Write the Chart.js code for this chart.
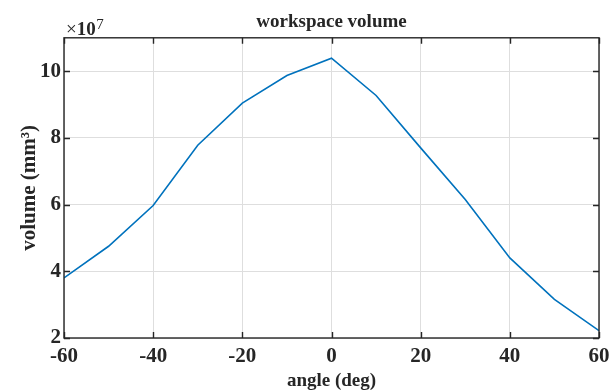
<!DOCTYPE html>
<html><head><meta charset="utf-8">
<script src="https://cdn.jsdelivr.net/npm/chart.js@4"></script>
<style>html,body{margin:0;padding:0;background:#fff;overflow:hidden}#wrap{width:616px;height:391px}</style>
</head><body><div id="wrap"><canvas id="c" width="616" height="391"></canvas></div>
<script>
const angles = [-60, -50, -40, -30, -20, -10, 0, 10, 20, 30, 40, 50, 60];
const volumes = [3.80e7, 4.75e7, 5.97e7, 7.78e7, 9.04e7, 9.87e7, 10.39e7, 9.27e7, 7.70e7, 6.15e7, 4.40e7, 3.16e7, 2.22e7];
const xTicks = [-60, -40, -20, 0, 20, 40, 60];
const yTicks = [2e7, 4e7, 6e7, 8e7, 10e7];
const yExponent = 7;
const titleText = 'workspace volume';
const xLabel = 'angle (deg)';
const yLabel = 'volume (mm³)';

const SERIF = '"Liberation Serif", "Times New Roman", serif';
const INK = '#262626';

const boxPlugin = {
  id: 'matlabBox',
  afterDraw(chart) {
    const {ctx, chartArea: {left, right, top, bottom}, scales: {x, y}} = chart;
    ctx.save();
    ctx.strokeStyle = INK;
    ctx.lineWidth = 1.4;
    const L = 6;
    ctx.beginPath();
    xTicks.forEach(v => {
      const px = Math.round(x.getPixelForValue(v)) + 0.5;
      ctx.moveTo(px, bottom); ctx.lineTo(px, bottom - L);
      ctx.moveTo(px, top); ctx.lineTo(px, top + L);
    });
    yTicks.forEach(v => {
      const py = Math.round(y.getPixelForValue(v)) + 0.5;
      ctx.moveTo(left, py); ctx.lineTo(left + L, py);
      ctx.moveTo(right, py); ctx.lineTo(right - L, py);
    });
    ctx.stroke();
    ctx.strokeRect(left, top, right - left, bottom - top);
    // exponent label
    ctx.fillStyle = INK;
    ctx.textAlign = 'left';
    ctx.textBaseline = 'alphabetic';
    let cx = left + 2;
    ctx.font = '19px ' + SERIF;
    ctx.fillText('×', cx, 35);
    cx += ctx.measureText('×').width;
    ctx.font = 'bold 19px ' + SERIF;
    ctx.fillText('10', cx, 35);
    cx += ctx.measureText('10').width + 0.5;
    ctx.font = '15px ' + SERIF;
    ctx.fillText(String(yExponent), cx, 29);
    ctx.restore();
  }
};

new Chart(document.getElementById('c'), {
  type: 'line',
  data: {
    datasets: [{
      data: angles.map((a, i) => ({x: a, y: volumes[i]})),
      borderColor: '#0072BD',
      borderWidth: 1.6,
      pointRadius: 0,
      tension: 0,
      fill: false
    }]
  },
  options: {
    responsive: false,
    animation: false,
    devicePixelRatio: 1,
    layout: {padding: {left: 0, right: 17, top: 0, bottom: 0}},
    plugins: {
      legend: {display: false},
      tooltip: {enabled: false},
      title: {
        display: true,
        text: titleText,
        fullSize: false,
        color: INK,
        font: {family: SERIF, size: 19, weight: 'bold', lineHeight: 1.2},
        padding: {top: 11, bottom: 4}
      }
    },
    scales: {
      x: {
        type: 'linear',
        min: -60, max: 60,
        afterBuildTicks: s => { s.ticks = xTicks.map(v => ({value: v})); },
        afterFit: s => { s.height = 53; },
        grid: {color: '#dedede', lineWidth: 1, drawTicks: false},
        border: {display: false},
        ticks: {color: INK, font: {family: SERIF, size: 21, weight: 'bold'}, padding: 6, maxRotation: 0, autoSkip: false},
        title: {display: true, text: xLabel, color: INK, font: {family: SERIF, size: 19, weight: 'bold', lineHeight: 1.2}, padding: {top: 0, bottom: -1}}
      },
      y: {
        type: 'linear',
        min: 2e7, max: 11e7,
        afterBuildTicks: s => { s.ticks = yTicks.map(v => ({value: v})); },
        afterFit: s => { s.width = 64; },
        grid: {color: '#dedede', lineWidth: 1, drawTicks: false},
        border: {display: false},
        ticks: {color: INK, font: {family: SERIF, size: 21, weight: 'bold'}, padding: 3, autoSkip: false,
          callback: v => String(Math.round(v / Math.pow(10, yExponent)))},
        title: {display: true, text: yLabel, color: INK, font: {family: SERIF, size: 21, weight: 'bold', lineHeight: 1.2}, padding: {top: 17, bottom: 0}}
      }
    }
  },
  plugins: [boxPlugin]
});
</script>
</body></html>
